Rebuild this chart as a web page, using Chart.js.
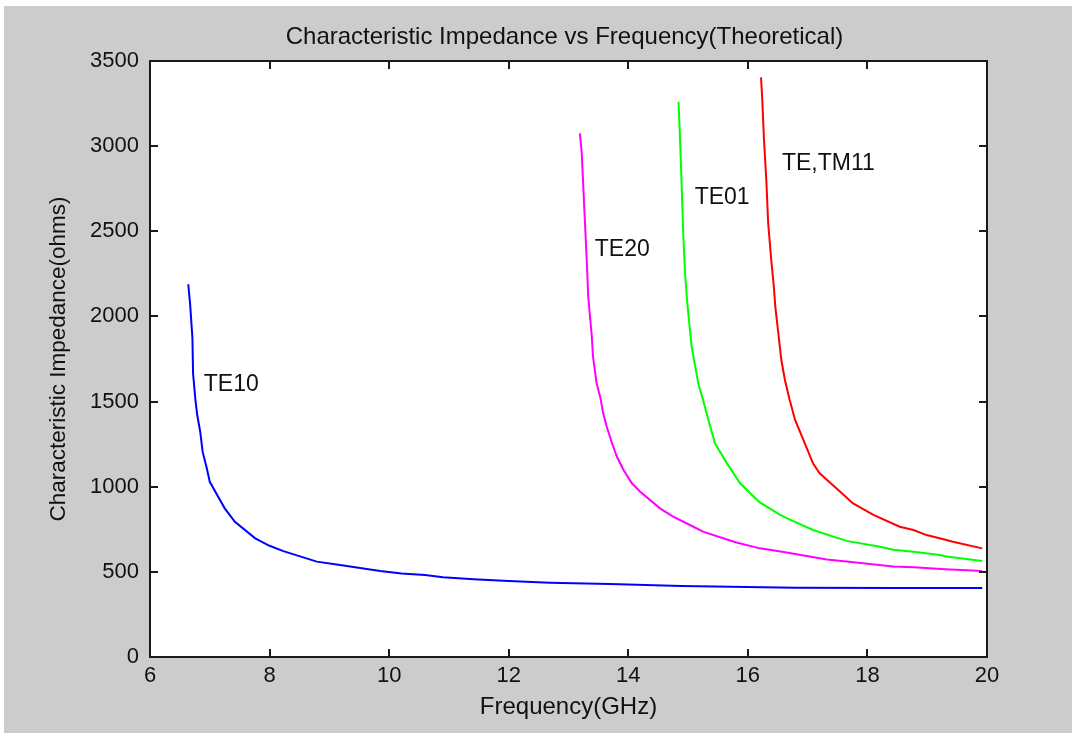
<!DOCTYPE html>
<html>
<head>
<meta charset="utf-8">
<script src="https://cdn.jsdelivr.net/npm/chart.js@4.4.0/dist/chart.umd.min.js"></script>
<style>
  html, body { margin: 0; padding: 0; background: #fff; }
</style>
</head>
<body>
<canvas id="myChart" width="1076" height="736"></canvas>
<script>
// values (frequency in GHz, impedance in ohms)
const te10Freq = [6.64, 6.67, 6.71, 6.72, 6.76, 6.79, 6.84, 6.88, 6.95, 7.0, 7.14, 7.25, 7.42, 7.76, 8.0, 8.23, 8.79, 9.18, 9.85, 10.21, 10.6, 10.9, 11.41, 12.0, 12.69, 13.69, 14.89, 16.8, 18.5, 19.92];
const te10Z    = [2189, 2077, 1871, 1666, 1509, 1421, 1323, 1206, 1108, 1029, 941, 873, 794, 697, 653, 622, 560, 540, 505, 491, 481, 468, 456, 446, 436, 429, 417, 406, 405, 405];

const te20Freq = [13.19, 13.22, 13.25, 13.28, 13.31, 13.33, 13.36, 13.39, 13.41, 13.47, 13.53, 13.58, 13.64, 13.72, 13.81, 13.92, 14.06, 14.2, 14.53, 14.75, 15.09, 15.25, 15.65, 15.81, 16.2, 16.6, 17.32, 17.65, 18.43, 18.77, 19.3, 19.92];
const te20Z    = [3075, 2967, 2742, 2517, 2292, 2116, 1998, 1881, 1764, 1607, 1529, 1431, 1352, 1264, 1176, 1098, 1020, 971, 873, 824, 765, 736, 690, 672, 638, 616, 573, 561, 532, 527, 515, 505];

const te01Freq = [14.84, 14.86, 14.89, 14.92, 14.95, 14.98, 15.02, 15.06, 15.12, 15.17, 15.25, 15.34, 15.45, 15.65, 15.87, 16.2, 16.54, 16.65, 17.09, 17.65, 18.21, 18.43, 18.77, 19.21, 19.32, 19.92];
const te01Z    = [3261, 3095, 2801, 2478, 2253, 2106, 1960, 1822, 1705, 1607, 1509, 1392, 1255, 1137, 1020, 908, 835, 815, 746, 682, 648, 630, 618, 599, 590, 564];

const te11Freq = [16.22, 16.24, 16.27, 16.31, 16.34, 16.39, 16.43, 16.46, 16.51, 16.56, 16.62, 16.7, 16.79, 16.93, 17.09, 17.2, 17.48, 17.76, 18.1, 18.54, 18.77, 18.99, 19.32, 19.43, 19.92];
const te11Z    = [3404, 3281, 3036, 2790, 2547, 2336, 2194, 2055, 1901, 1744, 1627, 1509, 1392, 1274, 1137, 1079, 991, 902, 834, 765, 746, 716, 687, 677, 638];

// text labels placed in data coordinates
const labelText = ['TE10', 'TE20', 'TE01', 'TE,TM11'];
const labelFreq = [6.90, 13.44, 15.11, 16.57];
const labelZ    = [1597, 2390, 2699, 2899];

const chartTitle = 'Characteristic Impedance vs Frequency(Theoretical)';
const xTickStep = 2;
const yTickStep = 500;

const FONT = "'Liberation Sans', Arial, sans-serif";

function toPoints(xs, ys) {
  return xs.map((x, i) => ({ x: x, y: ys[i] }));
}

// gray figure background, white axes, box with inward ticks, title and text labels
const matlabLook = {
  id: 'matlabLook',
  beforeDraw(chart) {
    const c = chart.ctx;
    const a = chart.chartArea;
    c.save();
    c.fillStyle = '#ffffff';
    c.fillRect(0, 0, chart.width, chart.height);
    c.fillStyle = '#cccccc';
    c.fillRect(4, 6, chart.width - 8, chart.height - 9);
    c.fillStyle = '#ffffff';
    c.fillRect(a.left, a.top, a.right - a.left, a.bottom - a.top);
    c.restore();
  },
  afterDatasetsDraw(chart) {
    const c = chart.ctx;
    const a = chart.chartArea;
    const xs = chart.scales.x;
    const ys = chart.scales.y;
    const tl = 8;
    c.save();
    c.strokeStyle = '#1a1a1a';
    c.lineWidth = 2;
    c.strokeRect(a.left, a.top, a.right - a.left, a.bottom - a.top);
    c.beginPath();
    xs.ticks.forEach(t => {
      const px = Math.round(xs.getPixelForValue(t.value));
      c.moveTo(px, a.bottom); c.lineTo(px, a.bottom - tl);
      c.moveTo(px, a.top); c.lineTo(px, a.top + tl);
    });
    ys.ticks.forEach(t => {
      const py = Math.round(ys.getPixelForValue(t.value));
      c.moveTo(a.left, py); c.lineTo(a.left + tl, py);
      c.moveTo(a.right, py); c.lineTo(a.right - tl, py);
    });
    c.stroke();

    c.fillStyle = '#111111';
    c.textBaseline = 'middle';
    c.textAlign = 'center';
    c.font = '24px ' + FONT;
    c.fillText(chartTitle, (a.left + a.right) / 2 - 4, 37);

    c.font = '23px ' + FONT;
    c.textAlign = 'left';
    labelText.forEach((txt, i) => {
      c.fillText(txt, xs.getPixelForValue(labelFreq[i]), ys.getPixelForValue(labelZ[i]));
    });
    c.restore();
  }
};

const ctx = document.getElementById('myChart');

new Chart(ctx, {
  type: 'scatter',
  data: {
    datasets: [
      { label: 'TE10', data: toPoints(te10Freq, te10Z), borderColor: '#0000ff' },
      { label: 'TE20', data: toPoints(te20Freq, te20Z), borderColor: '#ff00ff' },
      { label: 'TE01', data: toPoints(te01Freq, te01Z), borderColor: '#00ff00' },
      { label: 'TE,TM11', data: toPoints(te11Freq, te11Z), borderColor: '#ff0000' }
    ].map(ds => Object.assign(ds, {
      showLine: true,
      borderWidth: 2,
      pointRadius: 0,
      tension: 0,
      fill: false
    }))
  },
  options: {
    responsive: false,
    animation: false,
    layout: { padding: { left: 0, right: 89, top: 61, bottom: 0 } },
    plugins: {
      legend: { display: false },
      tooltip: { enabled: false },
      title: { display: false }
    },
    scales: {
      x: {
        type: 'linear',
        min: 6,
        max: 20,
        afterFit(scale) { scale.height = 79; },
        ticks: {
          stepSize: xTickStep,
          color: '#111111',
          padding: 6,
          maxRotation: 0,
          font: { family: FONT, size: 22 },
          callback: v => String(v)
        },
        grid: { display: false, drawTicks: false },
        border: { display: false },
        title: {
          display: true,
          text: 'Frequency(GHz)',
          color: '#111111',
          font: { family: FONT, size: 24 },
          padding: { top: 0, bottom: 14 }
        }
      },
      y: {
        type: 'linear',
        min: 0,
        max: 3500,
        afterFit(scale) { scale.width = 150; },
        ticks: {
          stepSize: yTickStep,
          color: '#111111',
          padding: 11,
          font: { family: FONT, size: 22 },
          callback: v => String(v)
        },
        grid: { display: false, drawTicks: false },
        border: { display: false },
        title: {
          display: true,
          text: 'Characteristic Impedance(ohms)',
          color: '#111111',
          font: { family: FONT, size: 22.5 },
          padding: { top: 45, bottom: 0 }
        }
      }
    }
  },
  plugins: [matlabLook]
});
</script>
</body>
</html>
